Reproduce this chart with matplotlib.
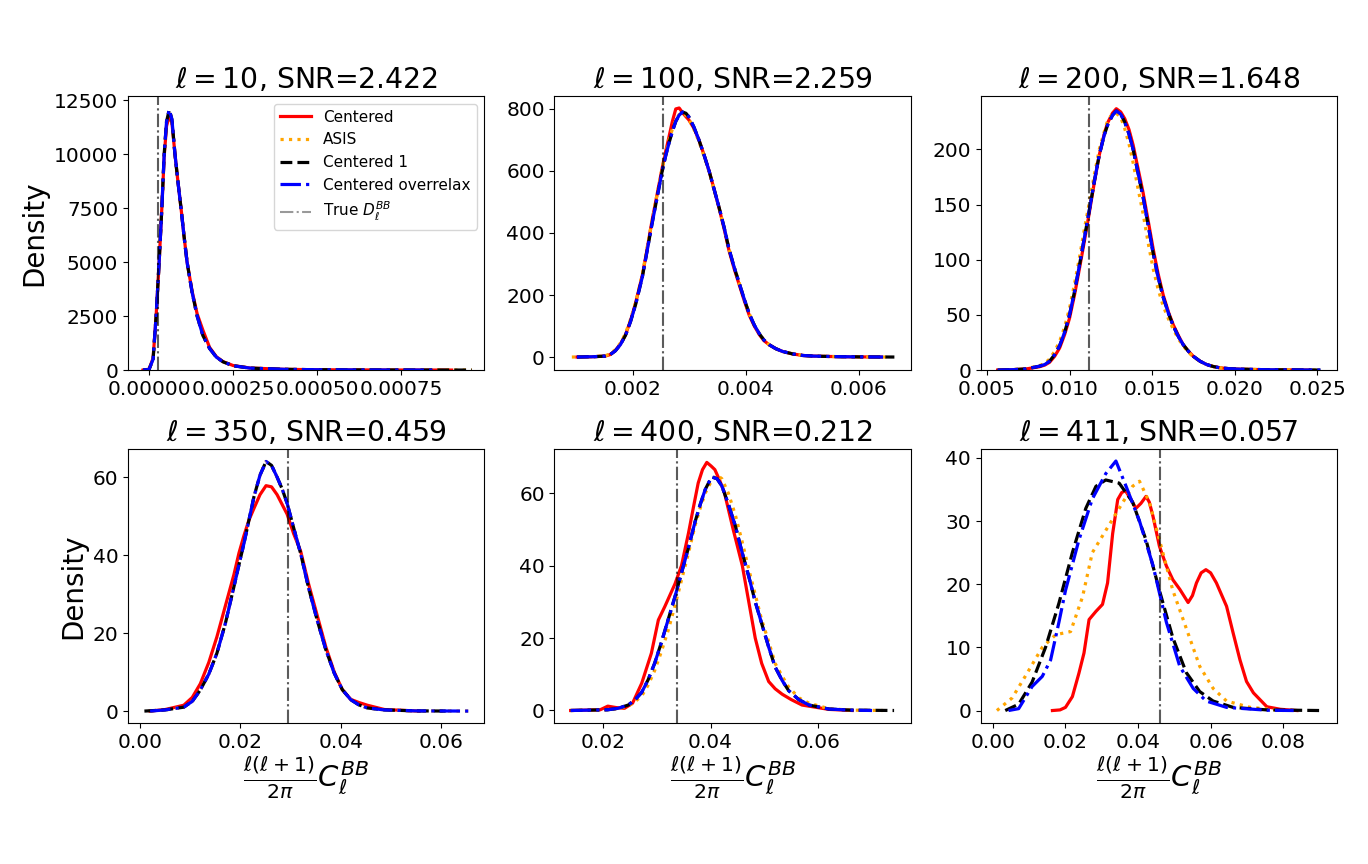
import matplotlib
matplotlib.use("Agg")
import matplotlib.pyplot as plt

# ---------------- data ----------------
ells = [10, 100, 200, 350, 400, 411]
snrs = ["2.422", "2.259", "1.648", "0.459", "0.212", "0.057"]
true_dl = [0.000028, 0.00253, 0.01115, 0.0294, 0.0337, 0.046]
series_names = ["Centered", "ASIS", "Centered 1", "Centered overrelax"]

# panel 1 (l=10)
p1_x_base = [-0.000018, 0.0, 0.000012, 0.000021, 0.00003, 0.000038, 0.000045, 0.000052, 0.00006,
             0.000068, 0.000077, 0.000086, 0.000095, 0.000104, 0.000113, 0.000128, 0.000143, 0.00016,
             0.00018, 0.0002, 0.00022, 0.00025, 0.0003, 0.0004, 0.0005, 0.0006, 0.0007, 0.0008, 0.00096]
p1_y_base = [0, 30, 500, 2500, 5000, 7500, 10000, 11500, 12050, 11600, 10000, 8700, 7500, 6200, 5000,
             3600, 2500, 1600, 1000, 600, 380, 200, 90, 35, 15, 8, 4, 2, 0]
p1_x_red = [-0.000018, 0.0, 0.000012, 0.000021, 0.00003, 0.000038, 0.000045, 0.000052, 0.00006,
            0.000068, 0.000077, 0.000086, 0.000095, 0.000104, 0.000113, 0.000128, 0.000143, 0.00016,
            0.00018, 0.0002, 0.00022, 0.00025, 0.0003, 0.0004, 0.0005, 0.0006, 0.0007, 0.0008, 0.0009]
p1_y_red = [0, 40, 550, 2500, 5000, 7500, 9900, 11300, 11750, 11450, 10000, 8700, 7500, 6200, 5000,
            3650, 2600, 1850, 1050, 620, 390, 210, 95, 35, 15, 8, 3, 1, 0]
p1_x_blue = [-0.000018, 0.0, 0.000012, 0.000021, 0.00003, 0.000038, 0.000045, 0.000052, 0.00006,
             0.000068, 0.000077, 0.000086, 0.000095, 0.000104, 0.000113, 0.000128, 0.000143, 0.00016,
             0.00018, 0.0002, 0.00022, 0.00025, 0.0003, 0.0004, 0.0005, 0.0006, 0.0007, 0.00085]
p1_y_blue = [0, 30, 500, 2500, 5000, 7500, 10000, 11500, 12050, 11600, 10000, 8700, 7500, 6200, 5000,
             3600, 2500, 1600, 1000, 600, 380, 200, 90, 35, 15, 8, 4, 0]

# panel 2 (l=100)
p2_x_base = [0.00101, 0.0013, 0.00151, 0.0016, 0.00169, 0.00178, 0.00187, 0.00196, 0.00205, 0.00217,
             0.00225, 0.00234, 0.00243, 0.00252, 0.00258, 0.00264, 0.0027, 0.00276, 0.00282, 0.00288,
             0.00294, 0.00299, 0.00308, 0.00317, 0.00326, 0.00335, 0.00344, 0.00353, 0.00362, 0.0037,
             0.00379, 0.00388, 0.00397, 0.00406, 0.00415, 0.00424, 0.00432, 0.00441, 0.00453, 0.00465,
             0.00483, 0.00501, 0.0052, 0.00542, 0.0057, 0.00601, 0.00643]
p2_y_base = [0, 1, 3, 8, 20, 40, 70, 115, 170, 260, 340, 430, 515, 600, 648, 690, 728, 760, 780, 790,
             786, 775, 742, 700, 652, 600, 540, 480, 415, 350, 292, 240, 188, 140, 103, 75, 55, 40, 27, 18,
             10, 5, 3, 2, 1, 0.5, 0]
p2_x_black = [0.00101, 0.0013, 0.00151, 0.0016, 0.00169, 0.00178, 0.00187, 0.00196, 0.00205, 0.00217,
              0.00225, 0.00234, 0.00243, 0.00252, 0.00258, 0.00264, 0.0027, 0.00276, 0.00282, 0.00288,
              0.00294, 0.00299, 0.00308, 0.00317, 0.00326, 0.00335, 0.00344, 0.00353, 0.00362, 0.0037,
              0.00379, 0.00388, 0.00397, 0.00406, 0.00415, 0.00424, 0.00432, 0.00441, 0.00453, 0.00465,
              0.00483, 0.00501, 0.0052, 0.00542, 0.0057, 0.00601, 0.00663]
p2_x_asis = [0.00092, 0.0013, 0.00151, 0.0016, 0.00169, 0.00178, 0.00187, 0.00196, 0.00205, 0.00217,
             0.00225, 0.00234, 0.00243, 0.00252, 0.00258, 0.00264, 0.0027, 0.00276, 0.00282, 0.00288,
             0.00294, 0.00299, 0.00308, 0.00317, 0.00326, 0.00335, 0.00344, 0.00353, 0.00362, 0.0037,
             0.00379, 0.00388, 0.00397, 0.00406, 0.00415, 0.00424, 0.00432, 0.00441, 0.00453, 0.00465,
             0.00483, 0.00501, 0.0052, 0.00542, 0.0057, 0.00601, 0.0065]
p2_y_asis = [0, 1, 4, 10, 24, 45, 76, 122, 176, 268, 350, 440, 525, 610, 655, 700, 735, 765, 782, 785,
             780, 768, 735, 695, 648, 598, 538, 478, 414, 350, 292, 240, 188, 140, 103, 75, 55, 40, 27, 18,
             10, 5, 3, 2, 1, 0.5, 0]
p2_x_red = [0.00101, 0.0013, 0.00151, 0.0016, 0.00169, 0.00178, 0.00187, 0.00196, 0.00205, 0.00217,
            0.00225, 0.00234, 0.00243, 0.00252, 0.00258, 0.00264, 0.0027, 0.00276, 0.00282, 0.00288,
            0.00294, 0.00299, 0.00308, 0.00317, 0.00326, 0.00335, 0.00344, 0.00353, 0.00362, 0.0037,
            0.00379, 0.00388, 0.00397, 0.00406, 0.00415, 0.00424, 0.00432, 0.00441, 0.00453, 0.00465,
            0.00483, 0.00501, 0.0052, 0.00542, 0.0057, 0.00601, 0.0064]
p2_y_red = [0, 1, 3, 8, 21, 42, 72, 118, 175, 265, 345, 440, 525, 610, 662, 710, 760, 800, 803, 788,
            775, 765, 738, 700, 652, 600, 540, 478, 410, 345, 287, 235, 183, 135, 100, 72, 53, 40, 27, 18,
            10, 5, 3, 2, 1, 0.5, 0]

# panel 3 (l=200)
p3_x_base = [0.00565, 0.0065, 0.00737, 0.00818, 0.0085, 0.00879, 0.0091, 0.0094, 0.0097, 0.01, 0.0103,
             0.0106, 0.0109, 0.0112, 0.0115, 0.0118, 0.0121, 0.0123, 0.0126, 0.01283, 0.0131, 0.01334,
             0.0136, 0.01385, 0.0141, 0.01445, 0.0148, 0.01506, 0.01535, 0.01567, 0.016, 0.01628, 0.0166,
             0.01688, 0.0172, 0.01749, 0.0179, 0.0183, 0.0187, 0.01911, 0.0197, 0.02032, 0.02194, 0.02518]
p3_y_base = [0, 0.3, 1, 3.5, 5, 8, 14, 22, 34, 50, 71, 95, 120, 145, 171, 195, 213, 222, 231, 235, 232,
             225, 214, 200, 182, 157, 128, 106, 85, 66, 51, 40, 30, 23, 17, 12.5, 8, 5, 3.2, 2, 1.2, 0.8,
             0.3, 0]
p3_x_red = [0.00565, 0.0065, 0.00737, 0.00818, 0.0085, 0.00879, 0.0091, 0.0094, 0.0097, 0.01, 0.0103,
            0.0106, 0.0109, 0.0112, 0.0115, 0.0118, 0.0121, 0.0123, 0.0126, 0.01283, 0.0131, 0.01334,
            0.0136, 0.01385, 0.0141, 0.01445, 0.0148, 0.01506, 0.01535, 0.01567, 0.016, 0.01628, 0.0166,
            0.01688, 0.0172, 0.01749, 0.0179, 0.0183, 0.0187, 0.01911, 0.0197, 0.02032, 0.02194, 0.0245]
p3_y_red = [0, 0.3, 1, 3, 4.5, 7, 12.5, 20, 32, 47, 68, 92, 117, 143, 170, 195, 214, 224, 233, 237, 234,
            228, 218, 204, 186, 161, 132, 110, 88, 68, 52, 41, 31, 23, 17, 12.5, 8, 5, 3.2, 2, 1.2, 0.8,
            0.3, 0]
p3_y_asis = [0, 0.4, 1.2, 4, 6, 10, 17, 26, 39, 56, 78, 102, 128, 152, 177, 200, 216, 226, 232, 233, 229,
             219, 205, 188, 168, 142, 112, 92, 74, 58, 46, 37, 28, 22, 16, 12, 8, 5, 3.2, 2, 1.2, 0.8,
             0.3, 0]

# panel 4 (l=350)
p4_x_base = [0.002, 0.005, 0.0087, 0.0104, 0.012, 0.0137, 0.0153, 0.017, 0.0187, 0.0197, 0.0207, 0.0217,
             0.0227, 0.0239, 0.0251, 0.0262, 0.0273, 0.0283, 0.0293, 0.0306, 0.032, 0.0336, 0.0353, 0.037,
             0.0387, 0.0403, 0.042, 0.0436, 0.0453, 0.0487, 0.055, 0.0654]
p4_y_base = [0, 0.3, 1, 2.5, 5.4, 9.5, 14.8, 22.5, 31.9, 37.5, 43, 49, 55, 60.5, 64, 63, 60, 57, 53.3,
             47, 40.4, 31.5, 23.3, 15.8, 9.7, 5.5, 2.9, 1.6, 0.8, 0.3, 0.05, 0]
p4_x_black = [0.00086, 0.005, 0.0087, 0.0104, 0.012, 0.0137, 0.0153, 0.017, 0.0187, 0.0197, 0.0207,
              0.0217, 0.0227, 0.0239, 0.0251, 0.0262, 0.0273, 0.0283, 0.0293, 0.0306, 0.032, 0.0336,
              0.0353, 0.037, 0.0387, 0.0403, 0.042, 0.0436, 0.0453, 0.0487, 0.055, 0.062]
p4_x_red = [0.002, 0.005, 0.0087, 0.0104, 0.012, 0.0137, 0.0153, 0.017, 0.0187, 0.0197, 0.0207, 0.0217,
            0.0227, 0.0239, 0.0251, 0.0262, 0.0273, 0.0283, 0.0293, 0.0306, 0.032, 0.0336, 0.0353, 0.037,
            0.0387, 0.0403, 0.042, 0.0436, 0.0453, 0.0487, 0.0556]
p4_y_red = [0, 0.4, 1.5, 3.5, 7, 12.5, 19, 27, 35, 40.5, 45, 49, 52, 55.5, 57.8, 57.5, 55.5, 53, 50.5,
            45.5, 41, 32.5, 24.5, 16.5, 10, 5.5, 3, 2.2, 1.5, 0.4, 0]

# panel 5 (l=400)
p5_x_base = [0.014, 0.0209, 0.0228, 0.0247, 0.026, 0.0272, 0.0284, 0.0296, 0.0308, 0.0321, 0.0334,
             0.0346, 0.0359, 0.0371, 0.0381, 0.039, 0.0402, 0.0412, 0.0421, 0.0433, 0.0446, 0.0458,
             0.0471, 0.0483, 0.0495, 0.0508, 0.052, 0.0533, 0.0545, 0.0564, 0.0583, 0.062, 0.066, 0.0741]
p5_y_base = [0, 0.2, 0.6, 1.5, 3, 5, 8.5, 13, 18.5, 25, 31.5, 38, 45, 52, 57, 61, 64.5, 64, 62, 57, 51,
             44, 37, 30, 24, 17.5, 12, 8.3, 5.5, 3, 1.5, 0.4, 0.1, 0]
p5_x_blue = [0.014, 0.0209, 0.0228, 0.0247, 0.026, 0.0272, 0.0284, 0.0296, 0.0308, 0.0321, 0.0334,
             0.0346, 0.0359, 0.0371, 0.0381, 0.039, 0.0402, 0.0412, 0.0421, 0.0433, 0.0446, 0.0458,
             0.0471, 0.0483, 0.0495, 0.0508, 0.052, 0.0533, 0.0545, 0.0564, 0.0583, 0.062, 0.066, 0.070]
p5_x_asis = [0.014, 0.0209, 0.0228, 0.0247, 0.026, 0.0272, 0.0284, 0.0296, 0.0308, 0.0321, 0.0334,
             0.0346, 0.0359, 0.0371, 0.0381, 0.039, 0.0402, 0.0412, 0.0421, 0.0433, 0.0446, 0.0458,
             0.0471, 0.0483, 0.0495, 0.0508, 0.052, 0.0533, 0.0545, 0.0564, 0.0583, 0.062, 0.066, 0.072]
p5_y_asis = [0, 0.2, 0.5, 1.2, 2.5, 4, 7, 11, 16, 22, 29, 36, 43.5, 51, 56, 60, 63.5, 65, 64, 60, 54, 47,
             39, 32, 25, 19, 13, 9.5, 6.5, 3.5, 2, 0.5, 0.1, 0]
p5_x_red = [0.014, 0.0195, 0.0209, 0.0225, 0.024, 0.0255, 0.0272, 0.029, 0.0303, 0.0315, 0.0334, 0.0346,
            0.0359, 0.0368, 0.0377, 0.0385, 0.0393, 0.0401, 0.0408, 0.0417, 0.0426, 0.0442, 0.0459,
            0.0471, 0.0483, 0.0495, 0.0508, 0.052, 0.0533, 0.055, 0.057, 0.062, 0.0663]
p5_y_red = [0, 0.2, 1.2, 0.8, 0.6, 2, 7.5, 15.8, 25, 28.7, 35, 40, 49, 56, 62.8, 66.5, 68.5, 67.5, 66.5,
            63.5, 60, 50, 40, 30, 20, 13, 8, 6, 4.5, 3, 1.5, 0.3, 0]

# panel 6 (l=411)
p6_x_black = [0.0034, 0.0071, 0.0108, 0.0145, 0.0182, 0.0219, 0.0256, 0.0284, 0.0311, 0.0348, 0.0385,
              0.0422, 0.0459, 0.0496, 0.0533, 0.057, 0.0607, 0.0662, 0.0755, 0.0903]
p6_y_black = [0, 1, 4.5, 10, 17, 25, 32, 35.5, 36.5, 36, 33, 27, 19, 11.5, 6, 3, 1.5, 0.5, 0.1, 0]
p6_x_blue = [0.0043, 0.0071, 0.0108, 0.0136, 0.0159, 0.0182, 0.02, 0.0237, 0.0274, 0.0311, 0.0339, 0.0367,
             0.0404, 0.0441, 0.0478, 0.0515, 0.0552, 0.0588, 0.0644, 0.0755, 0.0829]
p6_y_blue = [0, 0.3, 3.8, 5.4, 8, 14, 19, 27, 33.5, 37.5, 39.5, 35.5, 30, 23, 14, 7, 3.5, 1.5, 0.5, 0.05, 0]
p6_x_asis = [0.0011, 0.0053, 0.009, 0.0136, 0.0173, 0.0214, 0.0247, 0.0274, 0.0311, 0.0348, 0.0385, 0.0404,
             0.0431, 0.0459, 0.0496, 0.0533, 0.057, 0.0607, 0.0644, 0.0709, 0.0801]
p6_y_asis = [0, 2, 5.5, 10, 12, 12.5, 18, 25, 28.5, 32, 35.5, 36.3, 33, 27, 19, 13, 7, 3.5, 1.5, 0.5, 0]
p6_x_red = [0.0164, 0.0185, 0.02, 0.0219, 0.0237, 0.0251, 0.0265, 0.0284, 0.0302, 0.0316, 0.033, 0.0344,
            0.0355, 0.0365, 0.038, 0.0394, 0.0408, 0.0422, 0.0431, 0.0441, 0.0459, 0.0478, 0.0496, 0.0515,
            0.0538, 0.055, 0.0561, 0.0574, 0.0587, 0.06, 0.0616, 0.0644, 0.0662, 0.0681, 0.0699, 0.0718,
            0.0755, 0.0792, 0.0838]
p6_y_red = [0, 0.1, 0.5, 2.2, 5.9, 9.1, 14.4, 15.7, 16.8, 20.2, 28, 33.4, 34.5, 34.8, 33.5, 32, 32.8, 33.9,
            33, 30.8, 26, 22.9, 20.7, 19.2, 17.1, 18.2, 20.2, 21.8, 22.3, 21.8, 20.2, 16.5, 12.3, 8, 4.6,
            2.8, 0.6, 0.2, 0]

panels = [
    [(p1_x_red, p1_y_red), (p1_x_base, p1_y_base), (p1_x_base, p1_y_base), (p1_x_blue, p1_y_blue)],
    [(p2_x_red, p2_y_red), (p2_x_asis, p2_y_asis), (p2_x_black, p2_y_base), (p2_x_base, p2_y_base)],
    [(p3_x_red, p3_y_red), (p3_x_base, p3_y_asis), (p3_x_base, p3_y_base), (p3_x_base, p3_y_base)],
    [(p4_x_red, p4_y_red), (p4_x_base, p4_y_base), (p4_x_black, p4_y_base), (p4_x_base, p4_y_base)],
    [(p5_x_red, p5_y_red), (p5_x_asis, p5_y_asis), (p5_x_base, p5_y_base), (p5_x_blue, p5_y_base)],
    [(p6_x_red, p6_y_red), (p6_x_asis, p6_y_asis), (p6_x_black, p6_y_black), (p6_x_blue, p6_y_blue)],
]

xticks = [[0, 0.00025, 0.0005, 0.00075], [0.002, 0.004, 0.006], [0.005, 0.01, 0.015, 0.02, 0.025],
          [0, 0.02, 0.04, 0.06], [0.02, 0.04, 0.06], [0, 0.02, 0.04, 0.06, 0.08]]
yticks = [[0, 2500, 5000, 7500, 10000, 12500], [0, 200, 400, 600, 800], [0, 50, 100, 150, 200],
          [0, 20, 40, 60], [0, 20, 40, 60], [0, 10, 20, 30, 40]]
xlims = [(-0.0000625, 0.000997), (0.000613, 0.00692), (0.00464, 0.0262),
         (-0.0024, 0.0686), (0.011, 0.0772), (-0.0033, 0.0949)]
ylims = [(0, 12690), (-42, 842), (0, 248.6), (-3.1, 67.2), (-3.5, 72.2), (-2.0, 41.4)]

# ---------------- styles ----------------
styles = [dict(color="red", ls="-"), dict(color="orange", ls=":"),
          dict(color="black", ls="--"), dict(color="blue", ls="-.")]

fig, axes = plt.subplots(2, 3, figsize=(13.68, 8.64), dpi=100)
fig.subplots_adjust(left=0.0936, right=0.9775, top=0.889, bottom=0.163, wspace=0.197, hspace=0.288)

for i, ax in enumerate(axes.flat):
    for (xs, ys), st, name in zip(panels[i], styles, series_names):
        ax.plot(xs, ys, lw=2.3, label=name, **st)
    ax.axvline(true_dl[i], color="k", alpha=0.4, ls="-.", lw=1.5)
    ax.axvline(true_dl[i], color="k", alpha=0.4, ls="-.", lw=1.5, label=r"True $D_\ell^{BB}$")
    ax.set_title(r"$\ell = %d$, SNR=%s" % (ells[i], snrs[i]), fontsize=20.4)
    ax.set_xticks(xticks[i])
    ax.set_yticks(yticks[i])
    ax.set_xlim(*xlims[i])
    ax.set_ylim(*ylims[i])
    ax.tick_params(labelsize=14.5)
    if i % 3 == 0:
        ax.set_ylabel("Density", fontsize=20)
    if i >= 3:
        ax.set_xlabel(r"$\frac{\ell(\ell+1)}{2\pi}C_\ell^{BB}$", fontsize=21, labelpad=2)

axes[0, 0].legend(loc="upper right", fontsize=11)

fig.savefig("out.png", dpi=100)
